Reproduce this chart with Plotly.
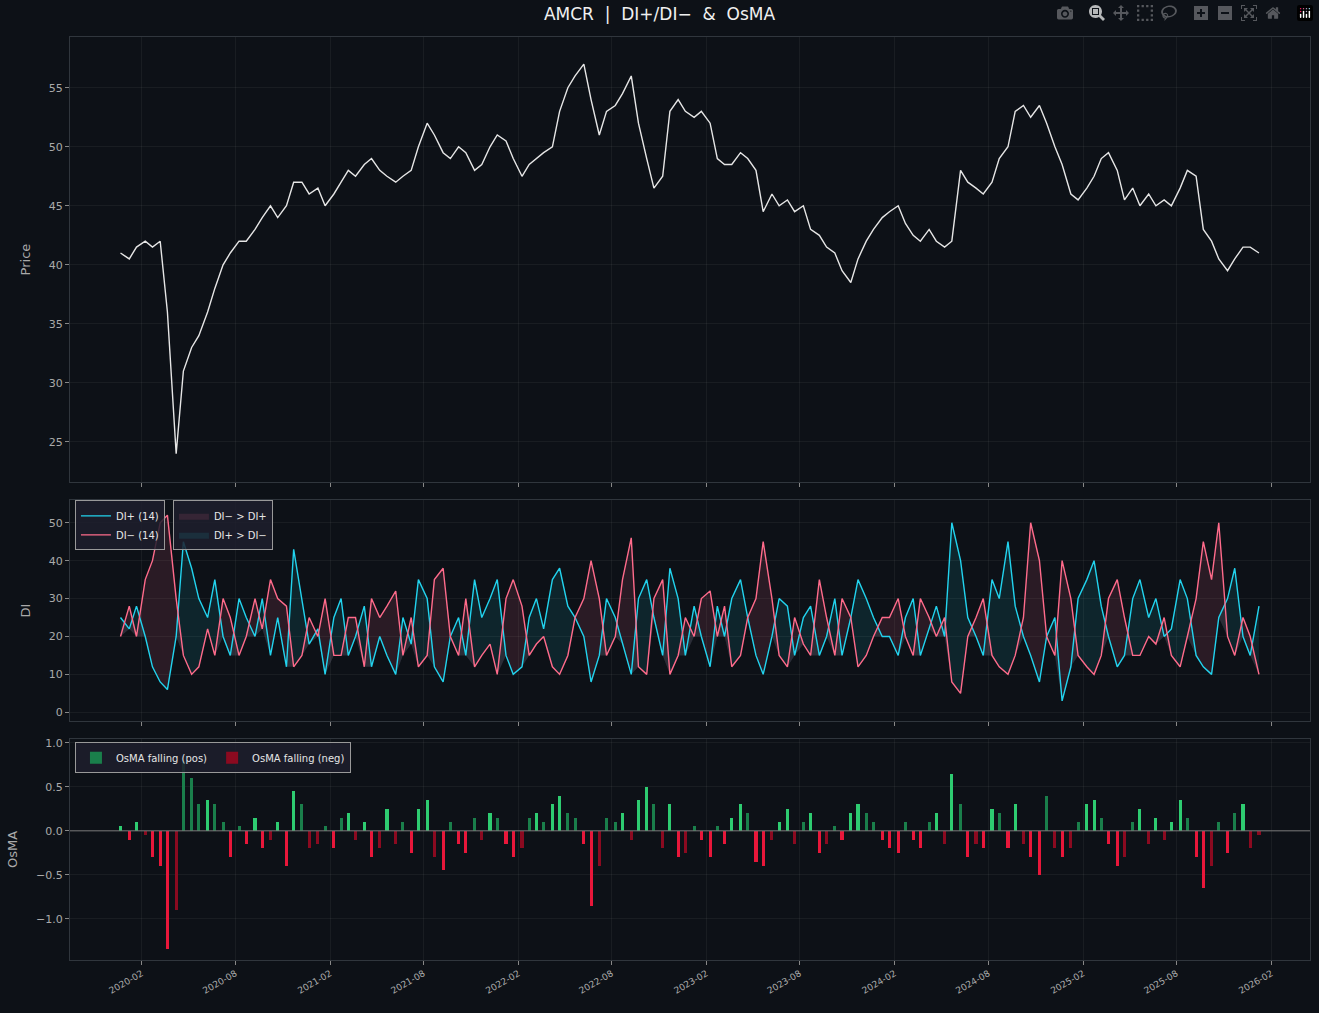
import numpy as np
import pandas as pd
import plotly.graph_objects as go
from plotly.subplots import make_subplots

# semi-monthly samples, 2019-12 .. 2025-12
dates = pd.date_range("2019-12-08", periods=146, freq="SMS") + pd.Timedelta(days=7)

close = [41, 40.5, 41.5, 42, 41.5, 42, 36, 24, 31, 33, 34, 36, 38, 40, 41, 42,
         42, 43, 44, 45, 44, 45, 47, 47, 46, 46.5, 45, 46, 47, 48, 47.5, 48.5,
         49, 48, 47.5, 47, 47.5, 48, 50, 52, 51, 49.5, 49, 50, 49.5, 48, 48.5, 50,
         51, 50.5, 49, 47.5, 48.5, 49, 49.5, 50, 53, 55, 56, 57, 54, 51, 53, 53.5,
         54.5, 56, 52, 49, 46.5, 47.5, 53, 54, 53, 52.5, 53, 52, 49, 48.5, 48.5, 49.5,
         49, 48, 44.5, 46, 45, 45.5, 44.5, 45, 43, 42.5, 41.5, 41, 39.5, 38.5, 40.5, 42,
         43, 44, 44.5, 45, 43.5, 42.5, 42, 43, 42, 41.5, 42, 48, 47, 46.5, 46, 47,
         49, 50, 53, 53.5, 52.5, 53.5, 52, 50, 48.5, 46, 45.5, 46.5, 47.5, 49, 49.5, 48,
         45.5, 46.5, 45, 46, 45, 45.5, 45, 46.5, 48, 47.5, 43, 42, 40.5, 39.5, 40.5, 41.5,
         41.5, 41]

di_plus = [25, 22, 28, 20, 12, 8, 6, 20, 45, 38, 30, 25, 35, 20, 15, 30,
           25, 20, 30, 15, 25, 12, 43, 30, 18, 22, 10, 25, 30, 15, 20, 28,
           12, 20, 15, 10, 25, 18, 35, 30, 12, 8, 20, 25, 15, 35, 25, 30,
           35, 15, 10, 12, 25, 30, 22, 35, 38, 28, 25, 20, 8, 15, 30, 25,
           18, 10, 30, 35, 25, 15, 38, 30, 15, 28, 20, 12, 28, 20, 30, 35,
           25, 15, 10, 20, 30, 28, 15, 25, 28, 15, 20, 30, 15, 25, 35, 30,
           25, 20, 20, 15, 25, 30, 15, 22, 28, 20, 50, 40, 25, 20, 15, 35,
           30, 45, 28, 20, 15, 8, 20, 25, 3, 12, 30, 35, 40, 28, 20, 12,
           15, 30, 35, 25, 30, 20, 22, 35, 30, 15, 12, 10, 25, 30, 38, 20,
           15, 28]

di_minus = [20, 28, 20, 35, 40, 50, 52, 30, 15, 10, 12, 22, 15, 30, 25, 15,
            20, 30, 22, 35, 30, 28, 12, 15, 25, 20, 30, 15, 15, 25, 25, 12,
            30, 25, 28, 32, 15, 25, 12, 15, 35, 38, 20, 15, 30, 12, 15, 18,
            10, 30, 35, 28, 15, 18, 20, 12, 10, 15, 25, 30, 40, 30, 15, 20,
            35, 46, 12, 10, 30, 35, 10, 15, 25, 20, 30, 32, 20, 28, 12, 15,
            25, 30, 45, 30, 15, 12, 25, 18, 15, 35, 25, 15, 30, 25, 12, 15,
            20, 25, 25, 30, 20, 15, 30, 25, 20, 25, 8, 5, 20, 25, 30, 15,
            12, 10, 15, 25, 50, 40, 20, 15, 40, 30, 15, 12, 10, 15, 30, 35,
            25, 15, 15, 20, 18, 25, 15, 12, 20, 30, 45, 35, 50, 20, 15, 25,
            20, 10]

osma = [0.05, -0.1, 0.1, -0.05, -0.3, -0.4, -1.35, -0.9, 0.8, 0.6, 0.3, 0.35, 0.3, 0.1, -0.3, 0.05,
        -0.15, 0.15, -0.2, -0.1, 0.1, -0.4, 0.45, 0.3, -0.2, -0.15, 0.05, -0.2, 0.15, 0.2, -0.1, 0.1,
        -0.3, -0.2, 0.25, -0.15, 0.1, -0.25, 0.25, 0.35, -0.3, -0.45, 0.1, -0.15, -0.25, 0.15, -0.1, 0.2,
        0.15, -0.15, -0.3, -0.2, 0.15, 0.2, 0.1, 0.3, 0.4, 0.2, 0.15, -0.15, -0.85, -0.4, 0.15, 0.1,
        0.2, -0.1, 0.35, 0.5, 0.3, -0.2, 0.3, -0.3, -0.25, 0.05, -0.1, -0.3, 0.05, -0.15, 0.15, 0.3,
        0.2, -0.35, -0.4, -0.1, 0.1, 0.25, -0.15, 0.1, 0.2, -0.25, -0.15, 0.05, -0.1, 0.2, 0.3, 0.2,
        0.1, -0.1, -0.2, -0.25, 0.1, -0.1, -0.2, 0.1, 0.2, -0.15, 0.65, 0.3, -0.3, -0.15, -0.2, 0.25,
        0.2, -0.2, 0.3, -0.15, -0.3, -0.5, 0.4, -0.2, -0.3, -0.2, 0.1, 0.3, 0.35, 0.15, -0.15, -0.4,
        -0.3, 0.1, 0.25, -0.15, 0.15, -0.1, 0.1, 0.35, 0.15, -0.3, -0.65, -0.4, 0.1, -0.25, 0.2, 0.3,
        -0.2, -0.05]

bg = "#0d1117"
grid = "rgba(255,255,255,0.05)"
axis_line = "#30363d"
dp = np.array(di_plus, dtype=float)
dm = np.array(di_minus, dtype=float)
om = np.array(osma)

fig = make_subplots(rows=3, cols=1, shared_xaxes=True,
                    row_heights=[445, 221, 221], vertical_spacing=0.0195)

# Price
fig.add_trace(go.Scatter(x=dates, y=close, name="Close", mode="lines",
                         line=dict(color="#e6e6e6", width=1.4), legend="legend"), 1, 1)

# DI fills (own legend, second column)
lo = np.minimum(dp, dm)
fig.add_trace(go.Scatter(x=dates, y=lo, mode="lines", line=dict(width=0),
                         showlegend=False, hoverinfo="skip", legend="legend4"), 2, 1)
fig.add_trace(go.Scatter(x=dates, y=np.where(dp >= dm, dp, lo), mode="lines", line=dict(width=0),
                         fill="tonexty", fillcolor="rgba(34,211,238,0.10)", name="DI+ > DI−",
                         legend="legend4"), 2, 1)
fig.add_trace(go.Scatter(x=dates, y=lo, mode="lines", line=dict(width=0),
                         showlegend=False, hoverinfo="skip", legend="legend4"), 2, 1)
fig.add_trace(go.Scatter(x=dates, y=np.where(dm > dp, dm, lo), mode="lines", line=dict(width=0),
                         fill="tonexty", fillcolor="rgba(255,107,139,0.12)", name="DI− > DI+",
                         legend="legend4"), 2, 1)
fig.add_trace(go.Scatter(x=dates, y=dp, name="DI+ (14)", mode="lines",
                         line=dict(color="#22d3ee", width=1.4), legend="legend2"), 2, 1)
fig.add_trace(go.Scatter(x=dates, y=dm, name="DI− (14)", mode="lines",
                         line=dict(color="#ff6b8b", width=1.4), legend="legend2"), 2, 1)

# OsMA bars
prev = np.concatenate([[0], om[:-1]])
rising = np.abs(om) >= np.abs(prev)
groups = [
    ((om >= 0) & ~rising, "#1a7f4b", "OsMA falling (pos)", True),
    ((om >= 0) & rising, "#2ecc71", "OsMA rising (pos)", False),
    ((om < 0) & ~rising, "#8b0a20", "OsMA falling (neg)", True),
    ((om < 0) & rising, "#e8173a", "OsMA rising (neg)", False),
]
for mask, col, nm, show in groups:
    fig.add_trace(go.Bar(x=dates[mask], y=om[mask], marker_color=col, marker_line_width=0,
                         width=86400000 * 6, name=nm, showlegend=show, legend="legend3"), 3, 1)
fig.add_hline(y=0, line=dict(color="#777", width=1), row=3, col=1)

leg = dict(bgcolor="rgba(30,30,45,0.85)", bordercolor="#999", borderwidth=1,
           font=dict(size=10, color="#e6e6e6"), xanchor="left", yanchor="top",
           tracegroupgap=0, itemwidth=30)
fig.update_layout(
    width=1319, height=1013, paper_bgcolor=bg, plot_bgcolor=bg,
    margin=dict(t=37, b=53, l=70, r=9),
    title=dict(text="AMCR  |  DI+/DI−  &  OsMA", x=0.5, y=0.992, yanchor="top",
               font=dict(size=17, color="#f0f0f0")),
    font=dict(family="DejaVu Sans", color="#aaaaaa", size=11),
    barmode="overlay", bargap=0,
    legend=dict(**leg, x=0.004, y=0.995),
    legend2=dict(**leg, x=0.004, y=0.498),
    legend4=dict(**leg, x=0.083, y=0.498),
    legend3=dict(**leg, x=0.004, y=0.236, orientation="h"),
)
fig.update_xaxes(showgrid=True, gridcolor=grid, showline=True, linecolor=axis_line, mirror=True,
                 zeroline=False, range=["2019-09-15", "2026-04-17"],
                 dtick="M6", tick0="2020-02-01", tickformat="%Y-%m",
                 ticks="outside", tickcolor="#888", ticklen=4)
fig.update_xaxes(tickangle=-30, tickfont=dict(size=9), row=3, col=1)
fig.update_yaxes(showgrid=True, gridcolor=grid, showline=True, linecolor=axis_line, mirror=True,
                 zeroline=False, ticks="outside", tickcolor="#888", ticklen=4)
fig.update_yaxes(title_text="Price", range=[21.6, 59.3], dtick=5, row=1, col=1)
fig.update_yaxes(title_text="DI", range=[-2.3, 56], dtick=10, row=2, col=1)
fig.update_yaxes(title_text="OsMA", range=[-1.47, 1.045], dtick=0.5, tickformat=".1f", row=3, col=1)

fig.write_html("out.html", post_script="document.body.style.margin='0';"
               "document.body.style.background='#0d1117';")
